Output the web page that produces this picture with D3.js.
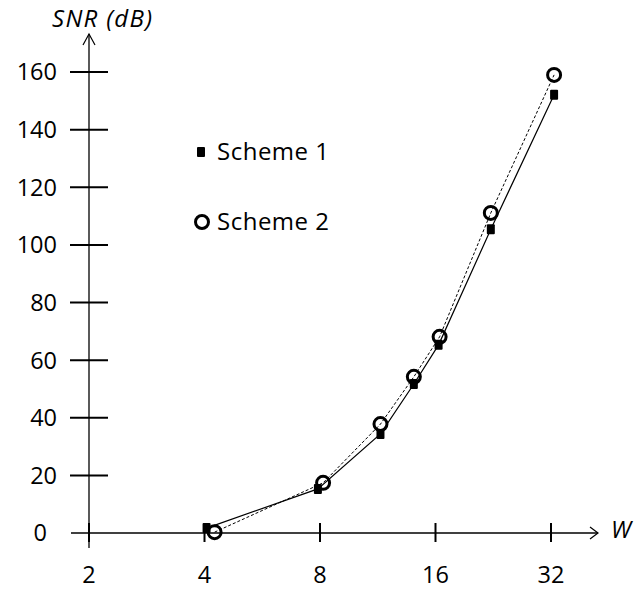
<!DOCTYPE html>
<html>
<head>
<meta charset="utf-8">
<script src="https://cdn.jsdelivr.net/npm/d3@7/dist/d3.min.js"></script>
<style>
  html, body { margin: 0; padding: 0; background: #fff; }
  svg text { font-family: "Open Sans", Lato, sans-serif; fill: #000; }
</style>
</head>
<body>
<svg id="chart" width="636" height="590"></svg>
<script>
// Window size W (log2 axis) and SNR in dB for both schemes
const xTicks = [2, 4, 8, 16, 32];
const yTicks = [0, 20, 40, 60, 80, 100, 120, 140, 160];
const scheme1W = [4.05, 7.9, 11.5, 14.05, 16.3, 22.3, 32.6];
const scheme1SNR = [1.7, 15.3, 34.4, 51.7, 65.3, 105.4, 152.1];
const scheme2W = [4.25, 8.15, 11.5, 14.05, 16.4, 22.3, 32.6];
const scheme2SNR = [0.3, 17.4, 37.8, 54.2, 68.1, 111.1, 159];
const seriesNames = ["Scheme 1", "Scheme 2"];

const svg = d3.select("#chart");
const x = d3.scaleLog().base(2).domain([2, 32]).range([89, 551]);
const y = d3.scaleLinear().domain([0, 160]).range([533, 72]);

const fontSize = 23.5;

// x axis with open arrowhead
const gx = svg.append("g");
gx.append("line").attr("x1", 71).attr("x2", 598).attr("y1", y(0)).attr("y2", y(0))
  .attr("stroke", "#000").attr("stroke-width", 1.3);
gx.append("path").attr("d", `M590,${y(0) - 6}L598,${y(0)}L590,${y(0) + 6}`)
  .attr("fill", "none").attr("stroke", "#000").attr("stroke-width", 1.2);
gx.selectAll("line.tick").data(xTicks).join("line").attr("class", "tick")
  .attr("x1", d => x(d)).attr("x2", d => x(d))
  .attr("y1", y(0) - 10).attr("y2", y(0) + 9)
  .attr("stroke", "#000").attr("stroke-width", 2);
gx.selectAll("text").data(xTicks).join("text")
  .attr("x", d => x(d)).attr("y", 583)
  .attr("text-anchor", "middle").attr("font-size", fontSize)
  .text(d => d);
gx.append("text").attr("x", 611).attr("y", 538)
  .attr("font-size", fontSize).attr("font-style", "italic").text("W");

// y axis with open arrowhead
const gy = svg.append("g");
gy.append("line").attr("x1", x(2)).attr("x2", x(2)).attr("y1", 548).attr("y2", 34)
  .attr("stroke", "#000").attr("stroke-width", 1.3);
gy.append("path").attr("d", `M${x(2) - 6},45L${x(2)},34L${x(2) + 6},45`)
  .attr("fill", "none").attr("stroke", "#000").attr("stroke-width", 1.2);
gy.selectAll("line.tick").data(yTicks.filter(d => d > 0)).join("line").attr("class", "tick")
  .attr("x1", 70).attr("x2", 108)
  .attr("y1", d => y(d)).attr("y2", d => y(d))
  .attr("stroke", "#000").attr("stroke-width", 2);
gy.selectAll("text").data(yTicks).join("text")
  .attr("x", d => d === 0 ? 47 : 57).attr("y", d => y(d))
  .attr("dy", "0.36em")
  .attr("text-anchor", "end").attr("font-size", fontSize)
  .text(d => d);
svg.append("text").attr("x", 52).attr("y", 27)
  .attr("font-size", 24).attr("letter-spacing", 1.3)
  .attr("font-style", "italic").text("SNR (dB)");

// series lines
const pts1 = scheme1W.map((w, i) => [w, scheme1SNR[i]]);
const pts2 = scheme2W.map((w, i) => [w, scheme2SNR[i]]);
const line = d3.line().x(d => x(d[0])).y(d => y(d[1]));

svg.append("path").datum(pts2).attr("d", line)
  .attr("fill", "none").attr("stroke", "#000").attr("stroke-width", 1)
  .attr("stroke-dasharray", "3,2");
svg.append("path").datum(pts1).attr("d", line)
  .attr("fill", "none").attr("stroke", "#000").attr("stroke-width", 1.2);

// markers
svg.selectAll("rect.s1").data(pts1).join("rect").attr("class", "s1")
  .attr("x", d => x(d[0]) - 4).attr("y", d => y(d[1]) - 5)
  .attr("width", 8).attr("height", 10).attr("rx", 1)
  .attr("fill", "#000");
svg.selectAll("circle.s2").data(pts2).join("circle").attr("class", "s2")
  .attr("cx", d => x(d[0])).attr("cy", d => y(d[1])).attr("r", 6.5)
  .attr("fill", "none").attr("stroke", "#000").attr("stroke-width", 3);

// legend
const lg = svg.append("g");
lg.append("rect").attr("x", 197).attr("y", 147).attr("width", 8).attr("height", 10)
  .attr("rx", 1).attr("fill", "#000");
lg.append("circle").attr("cx", 202).attr("cy", 222).attr("r", 6.5)
  .attr("fill", "none").attr("stroke", "#000").attr("stroke-width", 3);
lg.selectAll("text").data(seriesNames).join("text")
  .attr("x", 217).attr("y", (d, i) => [160, 230][i])
  .attr("font-size", 24).attr("letter-spacing", 0.5).text(d => d);
</script>
</body>
</html>
